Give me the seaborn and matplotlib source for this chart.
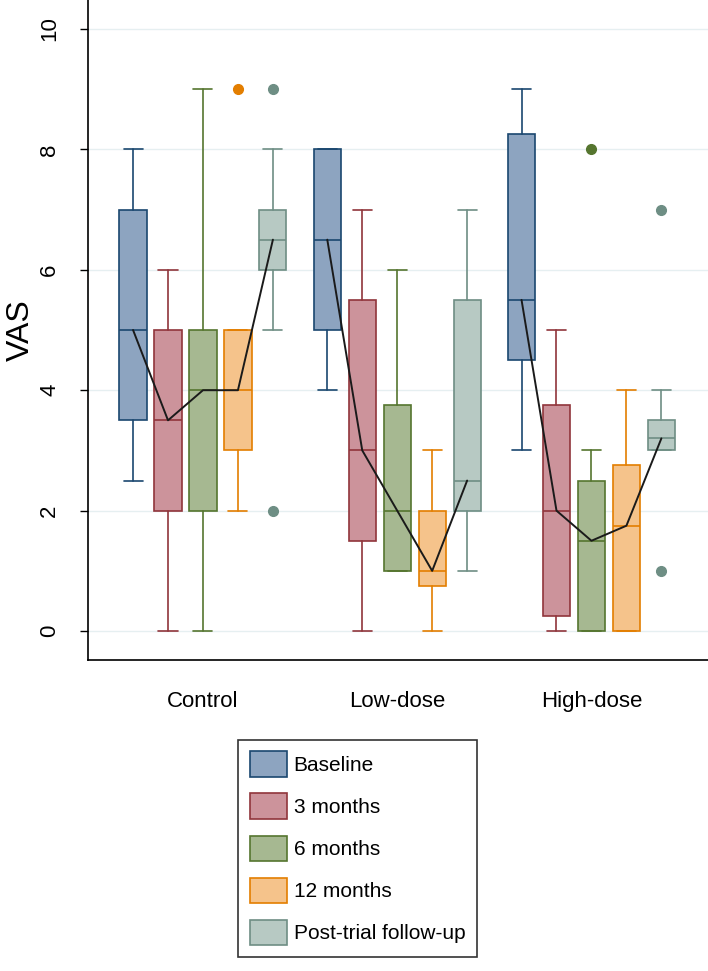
import numpy as np
import pandas as pd
import matplotlib
matplotlib.use("Agg")
import matplotlib.pyplot as plt
from matplotlib.patches import Patch
import seaborn as sns

# groups and time points
groups = ["Control", "Low-dose", "High-dose"]
timepoints = ["Baseline", "3 months", "6 months", "12 months", "Post-trial follow-up"]

# box statistics (one row per group, one column per time point)
med = [[5.0, 3.5, 4.0, 4.0, 6.5],
       [6.5, 3.0, 2.0, 1.0, 2.5],
       [5.5, 2.0, 1.5, 1.75, 3.2]]
q1 = [[3.5, 2.0, 2.0, 3.0, 6.0],
      [5.0, 1.5, 1.0, 0.75, 2.0],
      [4.5, 0.25, 0.0, 0.0, 3.0]]
q3 = [[7.0, 5.0, 5.0, 5.0, 7.0],
      [8.0, 5.5, 3.75, 2.0, 5.5],
      [8.25, 3.75, 2.5, 2.75, 3.5]]
whis_lo = [[2.5, 0.0, 0.0, 2.0, 5.0],
           [4.0, 0.0, 1.0, 0.0, 1.0],
           [3.0, 0.0, 0.0, 0.0, 3.0]]
whis_hi = [[8.0, 6.0, 9.0, 5.0, 8.0],
           [8.0, 7.0, 6.0, 3.0, 7.0],
           [9.0, 5.0, 3.0, 4.0, 4.0]]
outliers = [[[], [], [], [9], [9, 2]],
            [[], [], [], [], []],
            [[], [], [8], [], [7, 1]]]

fills = ["#8DA4C0", "#CC939B", "#A6B891", "#F5C38B", "#B7C9C3"]
edges = ["#1A476F", "#90353B", "#55752F", "#E37E00", "#6E8E84"]

sns.set_style("white")
plt.rcParams["font.family"] = ["Liberation Sans", "DejaVu Sans"]
plt.rcParams["text.color"] = "black"
plt.rcParams["xtick.color"] = "black"
plt.rcParams["ytick.color"] = "black"
plt.rcParams["axes.labelcolor"] = "black"

fig = plt.figure(figsize=(7.08, 9.71), dpi=100)
ax = fig.add_axes([0.124, 0.3203, 0.876, 0.6797])

offsets = np.array([-0.36, -0.18, 0.0, 0.18, 0.36])
box_w = 0.14

rows = []
for g in range(len(groups)):
    for t in range(len(timepoints)):
        pos = g + offsets[t]
        st = dict(med=med[g][t], q1=q1[g][t], q3=q3[g][t],
                  whislo=whis_lo[g][t], whishi=whis_hi[g][t],
                  fliers=outliers[g][t])
        ax.bxp([st], positions=[pos], widths=box_w, capwidths=[box_w * 0.7],
               patch_artist=True, manage_ticks=False,
               boxprops=dict(facecolor=fills[t], edgecolor=edges[t], linewidth=1.2),
               medianprops=dict(color=edges[t], linewidth=1.2),
               whiskerprops=dict(color=edges[t], linewidth=1.2),
               capprops=dict(color=edges[t], linewidth=1.2),
               flierprops=dict(marker="o", markersize=7, markerfacecolor=edges[t],
                               markeredgecolor=edges[t]))
        rows.append({"group": groups[g], "pos": pos, "median": med[g][t]})

df = pd.DataFrame(rows)
sns.lineplot(data=df, x="pos", y="median", units="group", estimator=None,
             color="#1a1a1a", linewidth=1.4, ax=ax, legend=False, zorder=5)

ax.set_xlim(-0.593, 2.6)
ax.set_ylim(-0.48, 10.48)
ax.set_xticks(range(len(groups)))
ax.set_xticklabels(groups, fontsize=16)
ax.set_yticks([0, 2, 4, 6, 8, 10])
ax.set_yticklabels(["0", "2", "4", "6", "8", "10"], fontsize=16, rotation=90, va="center")
ax.tick_params(axis="y", direction="out", length=6, width=1, pad=14, left=True)
ax.tick_params(axis="x", length=0, pad=22)
ax.set_xlabel("")
ax.set_ylabel("VAS", fontsize=23, labelpad=2)
ax.yaxis.grid(True, color="#E6EFF1", linewidth=1)
ax.set_axisbelow(True)
for s in ["top", "right"]:
    ax.spines[s].set_visible(False)
for s in ["left", "bottom"]:
    ax.spines[s].set_color("black")
    ax.spines[s].set_linewidth(1.2)

handles = [Patch(facecolor=fills[i], edgecolor=edges[i], linewidth=1.2, label=timepoints[i])
           for i in range(len(timepoints))]
leg = fig.legend(handles=handles, loc="upper center", bbox_to_anchor=(0.505, 0.238),
                 fontsize=15, frameon=True, fancybox=False, handlelength=1.8,
                 handleheight=1.5, labelspacing=0.8, handletextpad=0.3,
                 borderpad=0.55, borderaxespad=0)
leg.get_frame().set_edgecolor("black")
leg.get_frame().set_linewidth(1.2)

fig.savefig("out.png", dpi=100)
